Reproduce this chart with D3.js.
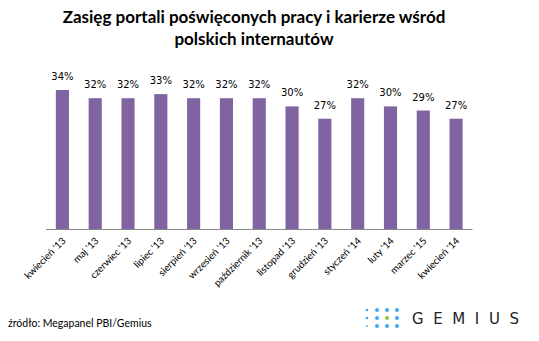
<!DOCTYPE html>
<html>
<head>
<meta charset="utf-8">
<script src="https://cdn.jsdelivr.net/npm/d3@7/dist/d3.min.js"></script>
<style>
  html, body { margin: 0; padding: 0; background: #fff; }
  svg { display: block; }
</style>
</head>
<body>
<svg id="chart" width="539" height="341"></svg>
<script>
// Monthly reach of job & career portals (% of Polish internet users)
const months = ["kwiecień '13", "maj '13", "czerwiec '13", "lipiec '13", "sierpień '13",
  "wrzesień '13", "październik '13", "listopad '13", "grudzień '13", "styczeń '14",
  "luty '14", "marzec '15", "kwiecień '14"];
const reach = [34, 32, 32, 33, 32, 32, 32, 30, 27, 32, 30, 29, 27];
const titleLines = ["Zasięg portali poświęconych pracy i karierze wśród", "polskich internautów"];
const sourceNote = "źródło: Megapanel PBI/Gemius";

const svg = d3.select("#chart");
const plot = { left: 46, right: 472.5, top: 40, bottom: 229.5 };

const x = d3.scaleBand().domain(months).range([plot.left, plot.right]).paddingInner(0.6).paddingOuter(0.3);
const y = d3.scaleLinear().domain([0, 34]).range([plot.bottom, 90]);

// title
svg.append("g").selectAll("text").data(titleLines).join("text")
  .attr("x", 254).attr("y", (d, i) => 23 + i * 22)
  .attr("text-anchor", "middle")
  .style("font-family", "Lato, 'Open Sans', sans-serif")
  .style("font-weight", 700).style("font-size", "17px").style("fill", "#000")
  .text(d => d);

// bars
svg.append("g").selectAll("rect").data(reach).join("rect")
  .attr("x", (d, i) => x(months[i]))
  .attr("width", x.bandwidth())
  .attr("y", d => y(d))
  .attr("height", d => y(0) - y(d))
  .attr("fill", "#8064A2");

// value labels
svg.append("g").selectAll("text").data(reach).join("text")
  .attr("x", (d, i) => x(months[i]) + x.bandwidth() / 2)
  .attr("y", d => y(d) - 10)
  .attr("text-anchor", "middle")
  .style("font-family", "'DejaVu Sans', sans-serif")
  .style("font-size", "10px").style("fill", "#000")
  .text(d => d + "%");

// x axis
const xAxis = svg.append("g").attr("transform", `translate(0,${plot.bottom})`)
  .call(d3.axisBottom(x).tickSize(0).tickPadding(0));
xAxis.select(".domain").attr("stroke", "#898989").attr("stroke-width", 1.2)
  .attr("d", `M${plot.left},0H${plot.right}`);
xAxis.selectAll(".tick text")
  .attr("dy", null).attr("y", 0)
  .attr("transform", "translate(4,12) rotate(-45)")
  .attr("text-anchor", "end")
  .style("font-family", "Lato, 'Open Sans', sans-serif")
  .style("font-size", "9.8px").style("fill", "#000");

// source note
svg.append("text").attr("x", 8).attr("y", 327)
  .style("font-family", "Lato, 'Open Sans', sans-serif")
  .style("font-size", "10.5px").style("fill", "#000")
  .text(sourceNote);

// Gemius logo: dot grid + wordmark
const dotCols = [367, 377, 387, 397];
const dotRows = [310, 318, 326];
const dotR = [
  [1.3, 2, 2, 2],
  [1.3, 2, 2, 2],
  [0.9, 2, 2, 2]
];
const logo = svg.append("g");
dotRows.forEach((cy, r) => {
  dotCols.forEach((cx, c) => {
    logo.append("circle").attr("cx", cx).attr("cy", cy).attr("r", dotR[r][c])
      .attr("fill", (r === 1 && c === 2) ? "#8DC63F" : "#3FA9F5");
  });
});
logo.append("text").attr("x", 412).attr("y", 323.5)
  .attr("textLength", 107).attr("lengthAdjust", "spacing")
  .style("font-family", "'DejaVu Sans', sans-serif")
  .style("font-size", "15px").style("font-weight", 400).style("fill", "#222")
  .text("GEMIUS");
</script>
</body>
</html>
